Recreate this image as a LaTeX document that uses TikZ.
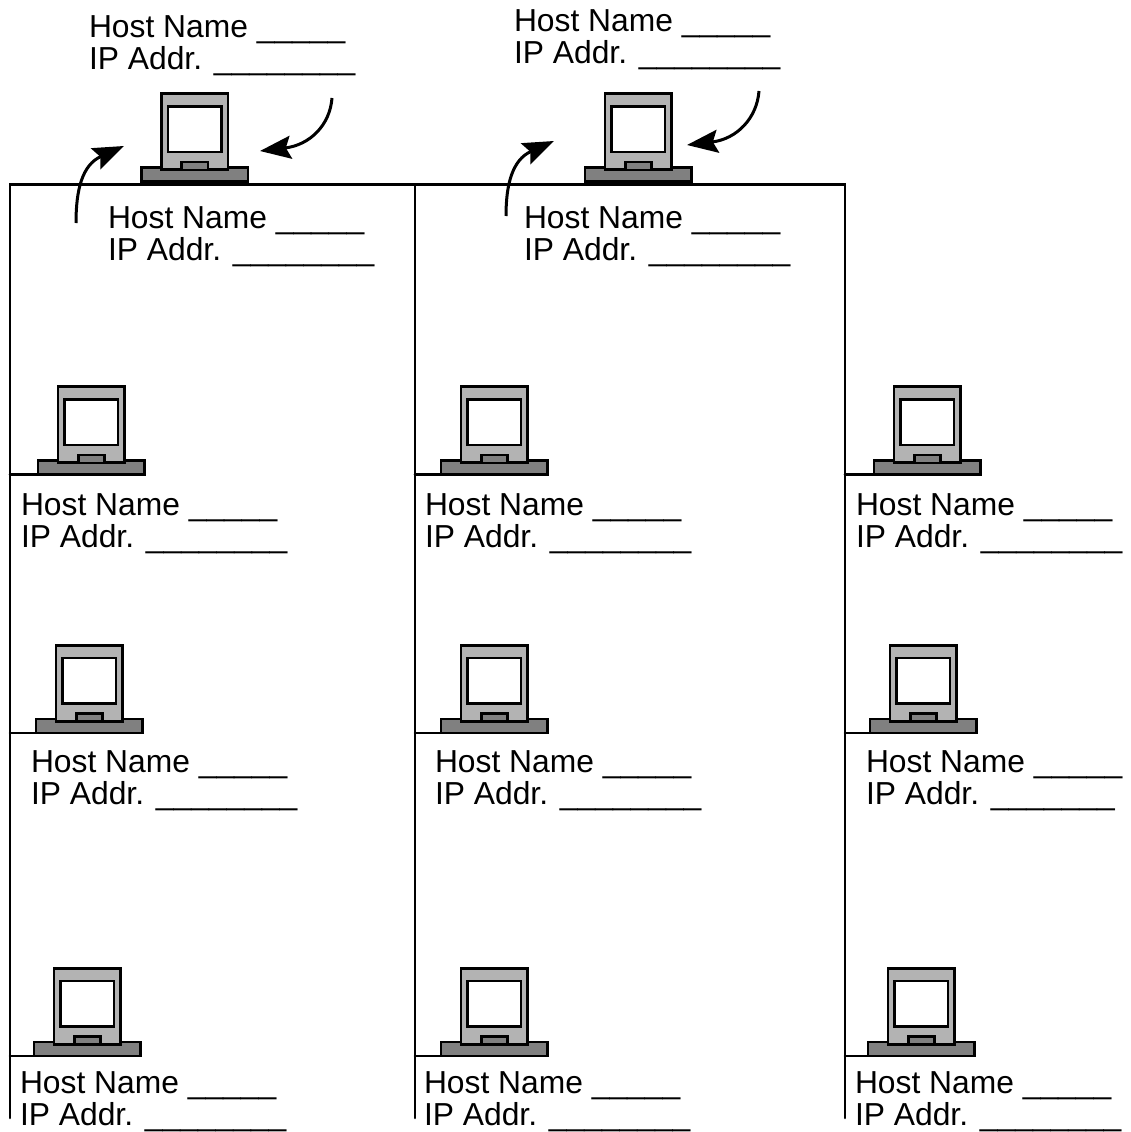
\documentclass[tikz,border=0pt]{standalone}
\usepackage{fontspec}
\setmainfont{Liberation Sans}
\usetikzlibrary{arrows.meta,calc}
\tikzset{
  x=1pt,y=-1pt,
  part/.style={draw=black,line width=2.8pt,outer sep=0pt,inner sep=0pt,anchor=south west},
  basepart/.style={part,fill=gray50,minimum width=106.5pt,minimum height=14pt},
  monitorpart/.style={part,fill=gray70,minimum width=66.5pt,minimum height=76pt},
  screenpart/.style={part,fill=white,minimum width=53.5pt,minimum height=45.5pt},
  slotpart/.style={part,fill=gray50,minimum width=26.3pt,minimum height=8pt},
  wire/.style={line width=2.6pt,line cap=round},
  callout/.style={line width=3pt,-{Stealth[length=31pt,width=23pt,inset=5pt]}},
  hostlabel/.style={anchor=base west,inner sep=0pt,outer sep=0pt,font=\fontsize{31.8}{32}\selectfont,align=left},
}
\definecolor{gray50}{HTML}{808080}
\definecolor{gray70}{HTML}{B3B3B3}
% name, x of base left, y of base bottom
\newcommand{\computer}[3]{%
  \node[basepart] (#1) at (#2,#3) {};
  \node[monitorpart] (#1m) at ($(#1.south west)+(20,-11.8)$) {};
  \node[screenpart] (#1s) at ($(#1.south west)+(26.5,-29.5)$) {};
  \node[slotpart] (#1t) at ($(#1.south west)+(40.2,-11.5)$) {};
}
% name, x, baseline of first line; tail of underscores
\newcommand{\hostinfo}[4]{%
  \node[hostlabel] (#1a) at (#2,#3) {Host Name \_\_\_\_\_};
  \node[hostlabel] (#1b) at (#2,#3+32) {IP Addr. #4};
}
\begin{document}
\begin{tikzpicture}
\useasboundingbox (0,0) rectangle (1131,1132);
\coordinate (b1t) at (10,184.5);
\coordinate (b2t) at (415,184.5);
\coordinate (b3t) at (845,184.5);
\coordinate (b1e) at (10,1118);
\coordinate (b2e) at (415,1118);
\coordinate (b3e) at (845,1118);
\draw[wire] (b1e) -- (b1t) -- (b3t) -- (b3e);
\draw[wire] (b2t) -- (b2e);

\computer{ta}{141.5}{181.5}
\computer{tb}{585}{181.5}
\computer{ra}{38}{474.5}
\computer{rb}{441}{474.5}
\computer{rc}{874}{474.5}
\computer{sa}{36}{733}
\computer{sb}{441}{733}
\computer{sc}{870}{733}
\computer{ua}{34}{1056}
\computer{ub}{441}{1056}
\computer{uc}{868}{1056}

\foreach \p/\b in {ra/b1t,rb/b2t,rc/b3t,sa/b1t,sb/b2t,sc/b3t,ua/b1t,ub/b2t,uc/b3t}
  \draw[wire] (\b |- \p.south west) -- (\p.south west);

\hostinfo{la}{89}{38}{\_\_\_\_\_\_\_\_}
\hostinfo{lb}{514}{31.5}{\_\_\_\_\_\_\_\_}
\hostinfo{lc}{108}{228.5}{\_\_\_\_\_\_\_\_}
\hostinfo{ld}{524}{228.5}{\_\_\_\_\_\_\_\_}
\hostinfo{le}{21}{515}{\_\_\_\_\_\_\_\_}
\hostinfo{lf}{425}{515}{\_\_\_\_\_\_\_\_}
\hostinfo{lg}{856}{515}{\_\_\_\_\_\_\_\_}
\hostinfo{lh}{31}{772}{\_\_\_\_\_\_\_\_}
\hostinfo{li}{435}{772}{\_\_\_\_\_\_\_\_}
\hostinfo{lj}{866}{772}{\_\_\_\_\_\_\_}
\hostinfo{lk}{20}{1093}{\_\_\_\_\_\_\_\_}
\hostinfo{ll}{424}{1093}{\_\_\_\_\_\_\_\_}
\hostinfo{lm}{855}{1093}{\_\_\_\_\_\_\_\_}

\coordinate (a1s) at (76,223);
\coordinate (a1e) at (124,146);
\coordinate (a2s) at (332,98);
\coordinate (a2e) at (260,151);
\coordinate (a3s) at (506,216);
\coordinate (a3e) at (554,141);
\coordinate (a4s) at (759,91);
\coordinate (a4e) at (687,145);
\draw[callout] (a1s) .. controls (76,190) and (82,165) .. (a1e);
\draw[callout] (a2s) .. controls (330,125) and (310,145) .. (a2e);
\draw[callout] (a3s) .. controls (506,185) and (512,160) .. (a3e);
\draw[callout] (a4s) .. controls (757,118) and (737,139) .. (a4e);
\end{tikzpicture}
\end{document}
